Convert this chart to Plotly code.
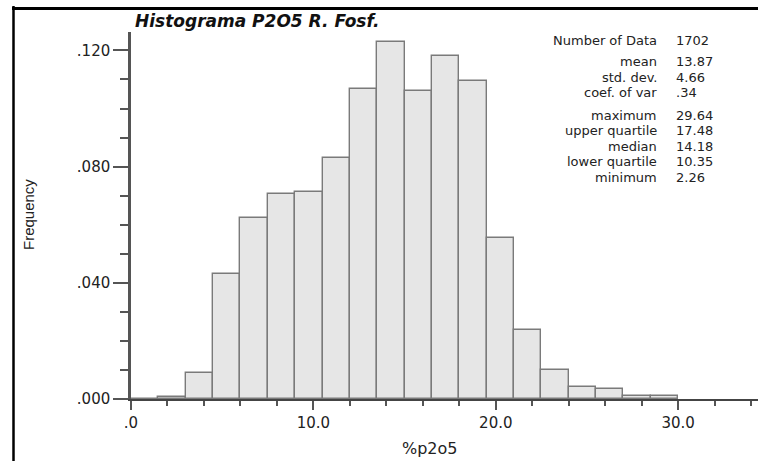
import plotly.graph_objects as go

# ---- data ----
bin_edges = [0.0, 1.5, 3.0, 4.5, 6.0, 7.5, 9.0, 10.5, 12.0, 13.5, 15.0,
             16.5, 18.0, 19.5, 21.0, 22.5, 24.0, 25.5, 27.0, 28.5, 30.0]
frequency = [0.0000, 0.0006, 0.0090, 0.0431, 0.0624, 0.0707, 0.0712, 0.0831,
             0.1067, 0.1230, 0.1061, 0.1181, 0.1093, 0.0553, 0.0237, 0.0101,
             0.0040, 0.0034, 0.0012, 0.0012]
x_tick_vals = [0, 10, 20, 30]
x_tick_text = [".0", "10.0", "20.0", "30.0"]
y_tick_vals = [0.0, 0.04, 0.08, 0.12]
y_tick_text = [".000", ".040", ".080", ".120"]
stat_labels = ["Number of Data", "mean", "std. dev.", "coef. of var",
               "maximum", "upper quartile", "median", "lower quartile", "minimum"]
stat_values = ["1702", "13.87", "4.66", ".34",
               "29.64", "17.48", "14.18", "10.35", "2.26"]
title_text = "Histograma P2O5 R. Fosf."
x_title = "%p2o5"
y_title = "Frequency"

# ---- layout geometry (pixels) ----
W, H = 758, 461
ML, MR, MT, MB = 131, 0, 32, 62
PW, PH = W - ML - MR, H - MT - MB


def px_x(px):
    return (px - ML) / PW


def px_y(py):
    return (H - MB - py) / PH


centers = [(bin_edges[i] + bin_edges[i + 1]) / 2 for i in range(len(frequency))]
widths = [bin_edges[i + 1] - bin_edges[i] for i in range(len(frequency))]

fig = go.Figure()
fig.add_trace(go.Bar(
    x=centers, y=frequency, width=widths,
    marker=dict(color="#e6e6e6", line=dict(color="#7a7a7a", width=1.4)),
    hoverinfo="x+y",
))

font_main = "DejaVu Sans, Arial, sans-serif"
txt_col = "#222222"

annotations = []
# title
annotations.append(dict(
    text="<b><i>" + title_text + "</i></b>", xref="paper", yref="paper",
    x=px_x(133), y=px_y(21), xanchor="left", yanchor="middle", showarrow=False,
    font=dict(family=font_main, size=17, color="#111111"),
))
# stats
row_y = [40.7, 61.5, 77.0, 92.5, 115.3, 130.8, 146.3, 161.8, 177.3]
for lab, val, ry in zip(stat_labels, stat_values, row_y):
    annotations.append(dict(
        text=lab, xref="paper", yref="paper", x=px_x(659), y=px_y(ry),
        xanchor="right", yanchor="middle", showarrow=False,
        font=dict(family=font_main, size=13, color=txt_col),
    ))
    annotations.append(dict(
        text=val, xref="paper", yref="paper", x=px_x(674), y=px_y(ry),
        xanchor="left", yanchor="middle", showarrow=False,
        font=dict(family=font_main, size=13, color=txt_col),
    ))
# axis titles
annotations.append(dict(
    text=x_title, xref="paper", yref="paper", x=px_x(430), y=px_y(448),
    xanchor="center", yanchor="middle", showarrow=False,
    font=dict(family=font_main, size=16, color=txt_col),
))
annotations.append(dict(
    text=y_title, xref="paper", yref="paper", x=px_x(28), y=px_y(215),
    xanchor="center", yanchor="middle", showarrow=False, textangle=-90,
    font=dict(family="Liberation Sans, Arial, sans-serif", size=15, color=txt_col),
))

shapes = [
    dict(type="line", xref="paper", yref="paper",
         x0=px_x(13.5), x1=px_x(13.5), y0=px_y(6), y1=px_y(470),
         line=dict(color="black", width=2.5)),
    dict(type="line", xref="paper", yref="paper",
         x0=px_x(12), x1=px_x(770), y0=px_y(8.5), y1=px_y(8.5),
         line=dict(color="black", width=3)),
]

fig.update_layout(
    width=W, height=H,
    margin=dict(l=ML, r=MR, t=MT, b=MB, pad=0),
    paper_bgcolor="white", plot_bgcolor="white",
    showlegend=False, bargap=0,
    annotations=annotations, shapes=shapes,
    xaxis=dict(
        range=[0, PW / 18.24], showgrid=False, zeroline=False,
        showline=True, linecolor="#444444", linewidth=2,
        tickmode="array", tickvals=x_tick_vals, ticktext=x_tick_text,
        ticks="outside", ticklen=9, tickwidth=1.5, tickcolor="#555555",
        tickfont=dict(family=font_main, size=15, color=txt_col),
        minor=dict(tickmode="linear", tick0=0, dtick=2, ticks="outside",
                   ticklen=5, tickwidth=1.5, tickcolor="#555555", showgrid=False),
        fixedrange=True,
    ),
    yaxis=dict(
        range=[0, (H - MB - MT) / 2905.0], showgrid=False, zeroline=False,
        showline=True, linecolor="#555555", linewidth=2.5,
        tickmode="array", tickvals=y_tick_vals, ticktext=y_tick_text,
        ticks="outside", ticklen=15, tickwidth=1.5, tickcolor="#555555",
        tickfont=dict(family=font_main, size=15, color=txt_col),
        minor=dict(tickmode="linear", tick0=0, dtick=0.01, ticks="outside",
                   ticklen=8, tickwidth=1.5, tickcolor="#555555", showgrid=False),
        fixedrange=True,
    ),
)

fig.write_html("out.html", config={"displayModeBar": False})
